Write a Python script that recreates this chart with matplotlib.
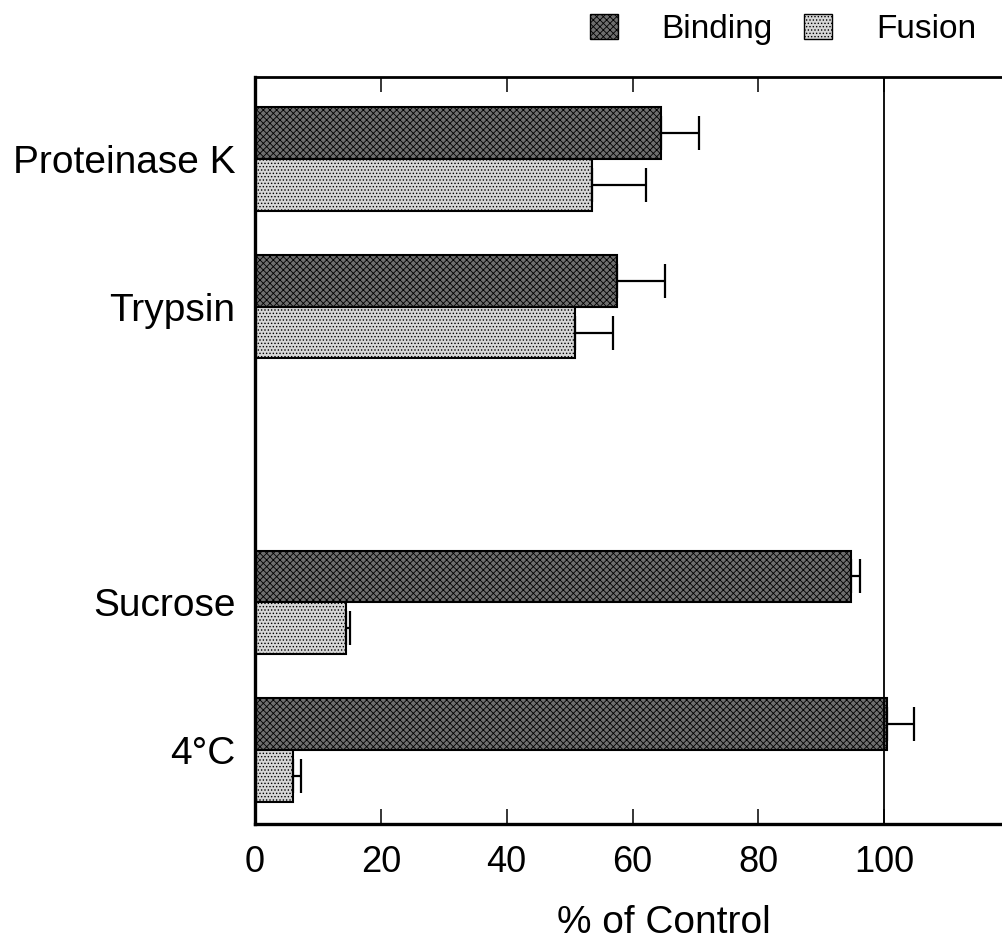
import numpy as np
import matplotlib.pyplot as plt
from matplotlib.patches import Patch

plt.rcParams['font.family'] = ['Liberation Sans', 'DejaVu Sans']
plt.rcParams['hatch.linewidth'] = 0.6

# datos
categorias = ['Proteinase K', 'Trypsin', 'Sucrose', '4°C']
pos_y = [0, 1, 3, 4]
binding = [64.6, 57.6, 94.7, 100.5]
binding_err = [5.9, 7.6, 1.5, 4.3]
fusion = [53.6, 50.9, 14.4, 6.1]
fusion_err = [8.5, 6.0, 0.7, 1.2]

alto_barra = 0.35
y = np.array(pos_y, dtype=float)

col_bind = '#6e6e6e'
col_fus = '#d6d6d6'

fig = plt.figure(figsize=(10.02, 9.44), dpi=100)
ax = fig.add_axes([0.2545, 0.1271, 0.7535, 0.7913])

ax.barh(y - alto_barra / 2, binding, height=alto_barra, color=col_bind,
        edgecolor='black', linewidth=1.5, hatch='xxxxx')
ax.barh(y + alto_barra / 2, fusion, height=alto_barra, color=col_fus,
        edgecolor='black', linewidth=1.5, hatch='.....')

# barras de error solo hacia la derecha
ax.errorbar(binding, y - alto_barra / 2,
            xerr=[np.zeros(len(binding)), binding_err],
            fmt='none', ecolor='black', elinewidth=1.6, capsize=12, capthick=1.6)
ax.errorbar(fusion, y + alto_barra / 2,
            xerr=[np.zeros(len(fusion)), fusion_err],
            fmt='none', ecolor='black', elinewidth=1.6, capsize=12, capthick=1.6)

ax.axvline(100, color='black', linewidth=1.3)

ax.set_xlim(0, 120)
ax.set_ylim(4.5, -0.554)

ax.spines['right'].set_visible(False)
ax.spines['left'].set_linewidth(2.4)
ax.spines['bottom'].set_linewidth(2.4)
ax.spines['top'].set_linewidth(2.0)

ax.set_xticks([0, 20, 40, 60, 80, 100])
ax.tick_params(axis='x', direction='in', length=11, width=1.1, top=True,
               labelsize=26, pad=15)
ax.set_yticks(pos_y)
ax.set_yticklabels(categorias)
ax.tick_params(axis='y', length=0, labelsize=28, pad=14)

# el eje original sigue mas alla del recorte, por eso la etiqueta va corrida
ax.set_xlabel('% of Control', fontsize=28, labelpad=18, x=65 / 120)

leyenda = [Patch(facecolor=col_bind, edgecolor='black', hatch='xxxxx', label='Binding'),
           Patch(facecolor=col_fus, edgecolor='black', hatch='.....', label='Fusion')]
fig.legend(handles=leyenda, loc='center right', bbox_to_anchor=(0.974, 0.969),
           ncol=2, frameon=False, fontsize=24, handlelength=0.84,
           handleheight=0.78, handletextpad=1.3, columnspacing=0.96,
           borderpad=0, borderaxespad=0)

plt.savefig('out.png', dpi=100)
